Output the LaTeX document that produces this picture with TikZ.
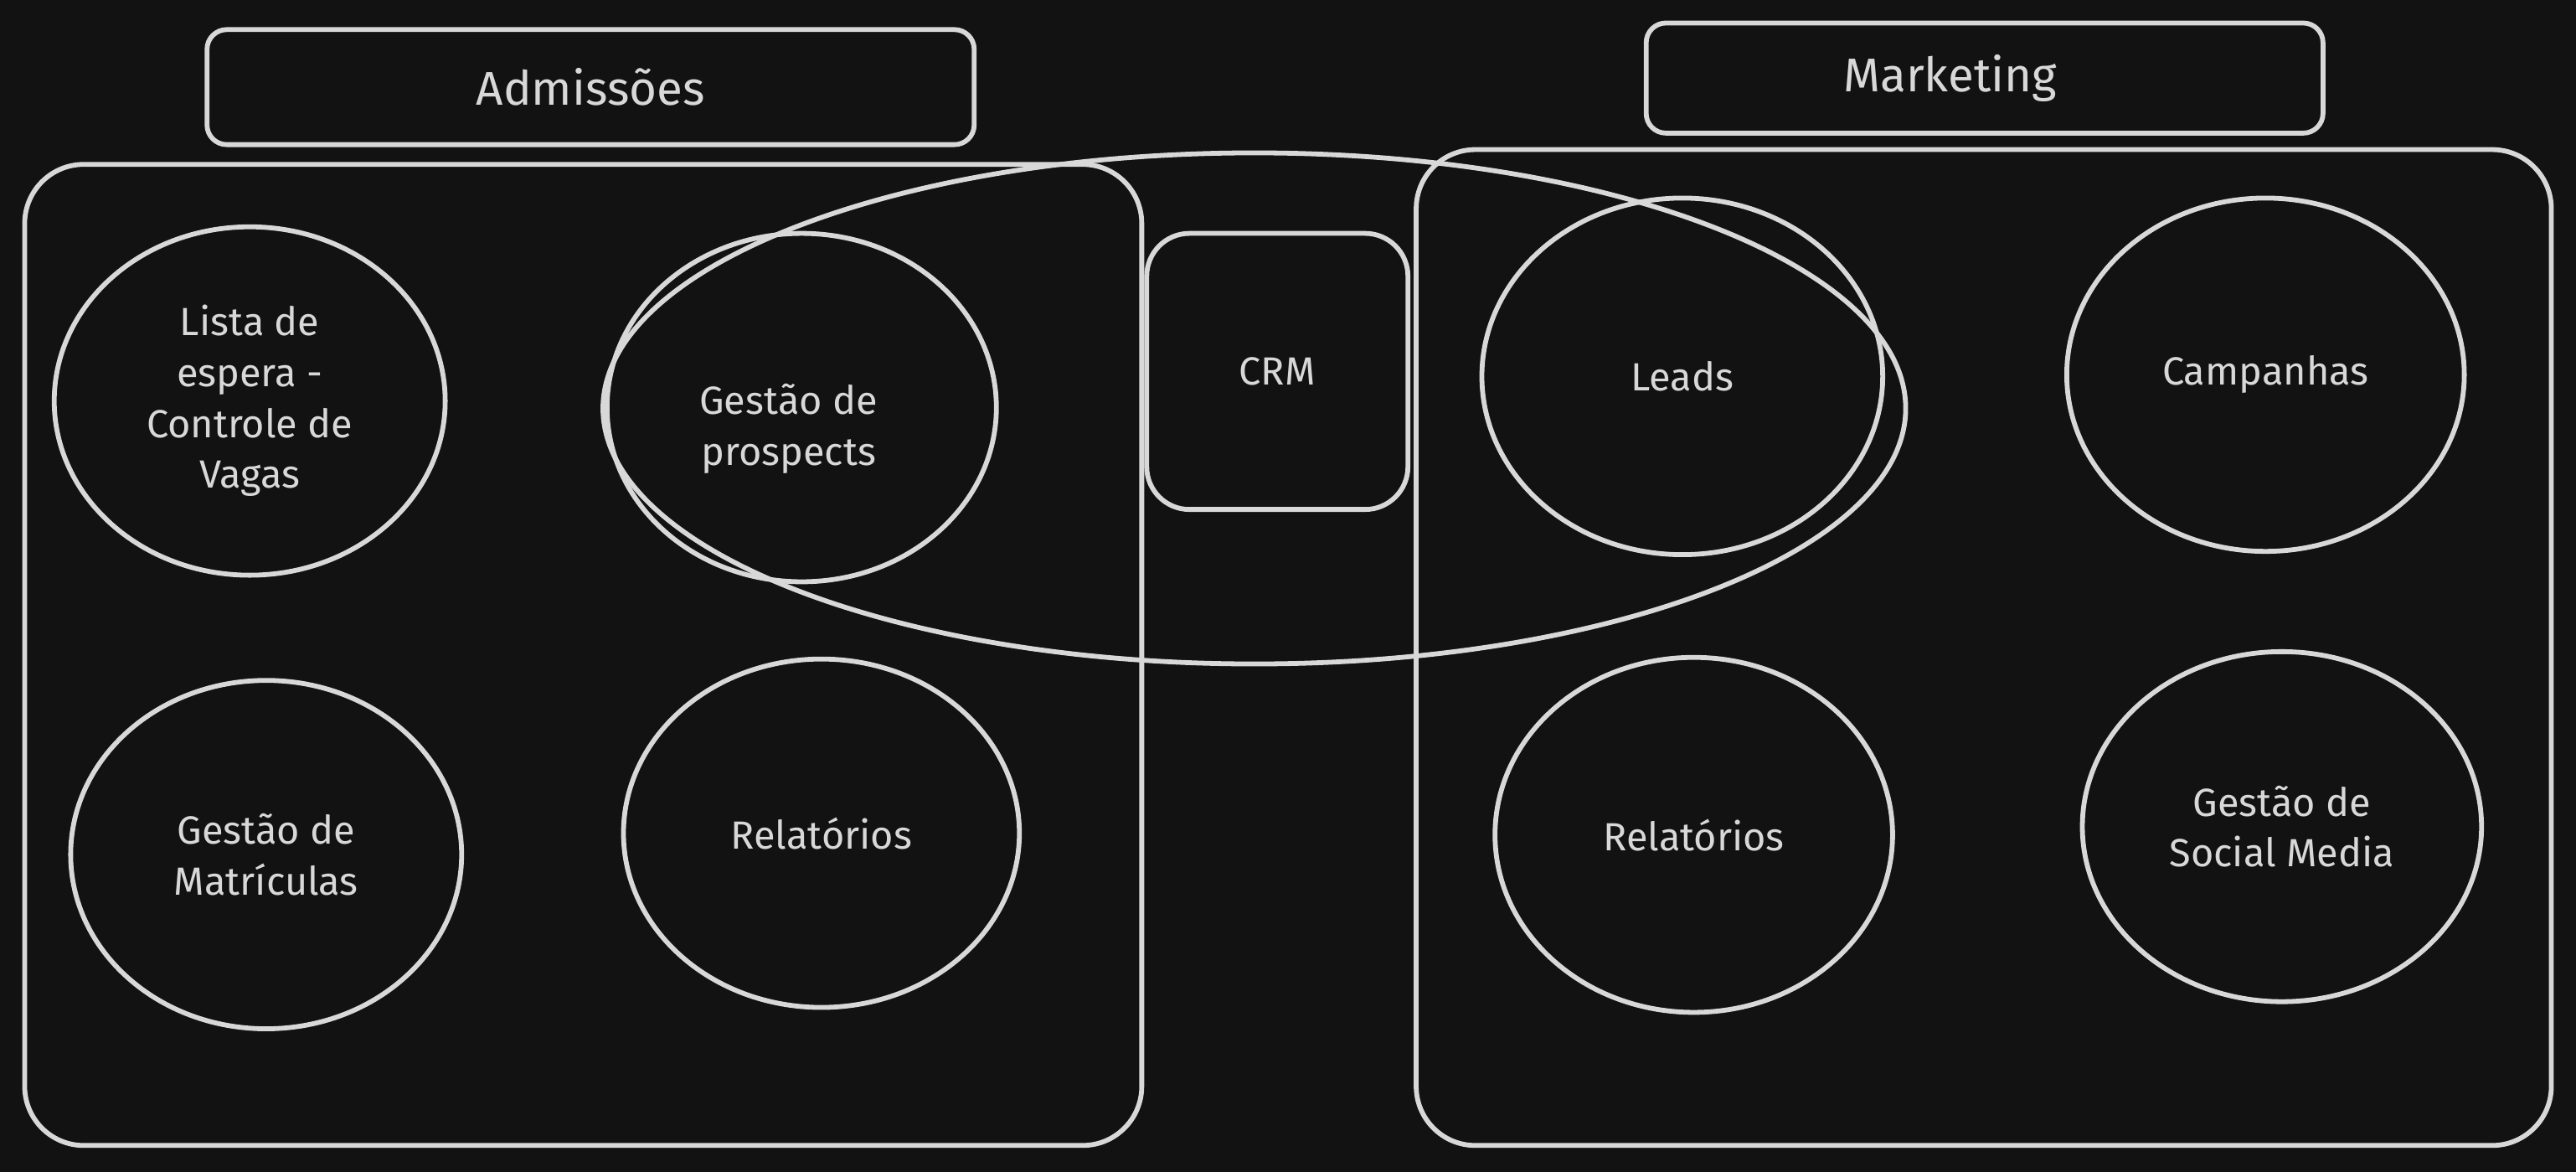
\documentclass[tikz,border=0pt]{standalone}
\usepackage{fontspec}
\setmainfont{Fira Sans}
\usetikzlibrary{shapes.geometric}
\definecolor{bg}{HTML}{121212}
\definecolor{ink}{HTML}{D8D8D8}
\begin{document}
\begin{tikzpicture}[x=0.05cm,y=-0.05cm,
  every node/.style={text=ink, font=\fontsize{34}{44}\selectfont},
  every label/.style={text=ink, font=\fontsize{34}{44}\selectfont, align=center},
  line/.style={draw=ink, line width=4.2pt},
  bigbox/.style={line, rectangle, rounded corners=1.8cm, inner sep=0pt},
  titlebox/.style={line, rectangle, rounded corners=0.6cm, inner sep=0pt, font=\fontsize{41}{44}\selectfont},
  circ/.style={line, ellipse, inner sep=0pt, align=center}
]
\useasboundingbox[fill=bg] (0,0) rectangle (1568,713);

% titles
\node[titlebox, minimum width=23.35cm, minimum height=3.5cm] (adm) at (359.5,53) {Admissões};
\node[titlebox, minimum width=20.6cm, minimum height=3.35cm,
  label={[xshift=-1.05cm, font=\fontsize{41}{44}\selectfont]center:Marketing}] (mkt) at (1208,47.5) {};

% big containers
\node[bigbox, minimum width=34cm, minimum height=29.85cm] (left) at (355,398.5) {};
\node[bigbox, minimum width=34.55cm, minimum height=30.3cm] (right) at (1207.5,394) {};

% CRM
\node[line, rectangle, rounded corners=1.3cm, minimum width=7.95cm, minimum height=8.4cm, inner sep=0pt] (crm) at (777.5,226) {CRM};

% overlapping ellipse
\node[line, ellipse, minimum width=39.65cm, minimum height=15.55cm, inner sep=0pt] (crmring) at (763.5,248.5) {};

% admissions circles
\node[circ, minimum width=11.9cm, minimum height=10.6cm] (lista) at (152,244) {Lista de\\espera -\\Controle de\\Vagas};
\node[circ, minimum width=11.85cm, minimum height=10.6cm,
  label={[xshift=-0.4cm, yshift=-0.65cm]center:Gestão de\\prospects}] (prosp) at (488,248) {};
\node[circ, minimum width=11.9cm, minimum height=10.6cm] (matr) at (162,520) {Gestão de\\Matrículas};
\node[circ, minimum width=12.05cm, minimum height=10.6cm] (relA) at (500,507) {Relatórios};

% marketing circles
\node[circ, minimum width=12.2cm, minimum height=10.85cm] (leads) at (1024,229) {Leads};
\node[circ, minimum width=12.1cm, minimum height=10.75cm] (camp) at (1379,228) {Campanhas};
\node[circ, minimum width=12.1cm, minimum height=10.8cm] (relM) at (1031,508) {Relatórios};
\node[circ, minimum width=12.15cm, minimum height=10.65cm] (social) at (1389,503) {Gestão de\\Social Media};
\end{tikzpicture}
\end{document}
